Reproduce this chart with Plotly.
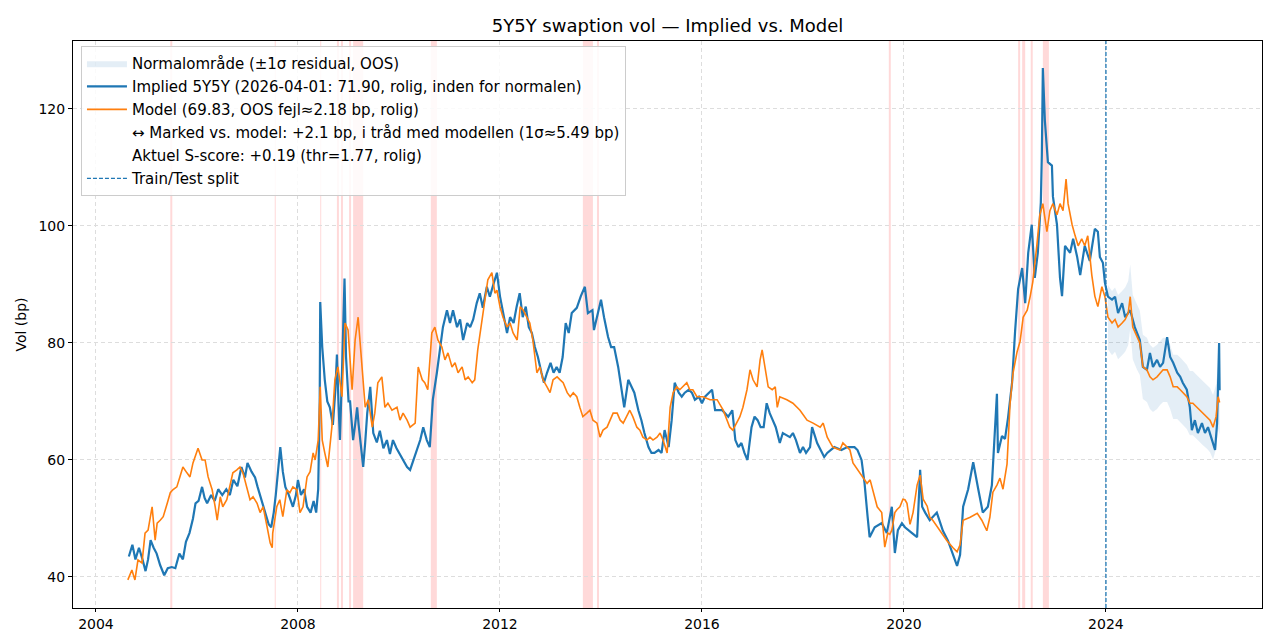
import pandas as pd
import plotly.graph_objects as go

# ---------------- data (decimal years, bp) ----------------
implied_years = [
    2004.65, 2004.72, 2004.78, 2004.85, 2004.92, 2004.98, 2005.03, 2005.08, 2005.14, 2005.2,
    2005.27, 2005.35, 2005.42, 2005.5, 2005.57, 2005.65, 2005.72, 2005.78, 2005.85, 2005.92,
    2005.97, 2006.03, 2006.1, 2006.15, 2006.2, 2006.28, 2006.35, 2006.42, 2006.5, 2006.58,
    2006.65, 2006.72, 2006.8, 2006.88, 2006.95, 2007.0, 2007.08, 2007.15, 2007.2, 2007.28,
    2007.35, 2007.42, 2007.47, 2007.52, 2007.56, 2007.6, 2007.65, 2007.7, 2007.75, 2007.82,
    2007.9, 2007.96, 2008.0, 2008.06, 2008.12, 2008.18, 2008.25, 2008.31, 2008.36, 2008.4,
    2008.43, 2008.44, 2008.48, 2008.53, 2008.58, 2008.63, 2008.69, 2008.74, 2008.77, 2008.8,
    2008.83, 2008.87, 2008.92, 2008.95, 2009.0, 2009.03, 2009.06, 2009.09, 2009.13, 2009.17,
    2009.2, 2009.23, 2009.29, 2009.33, 2009.37, 2009.43, 2009.49, 2009.56, 2009.62, 2009.69,
    2009.76, 2009.82, 2009.88, 2009.95, 2010.02, 2010.09, 2010.16, 2010.22, 2010.29, 2010.36,
    2010.42, 2010.48, 2010.55, 2010.61, 2010.67, 2010.75, 2010.81, 2010.87, 2010.95, 2011.01,
    2011.07, 2011.15, 2011.21, 2011.27, 2011.35, 2011.41, 2011.47, 2011.54, 2011.6, 2011.66,
    2011.74, 2011.8, 2011.87, 2011.94, 2012.0, 2012.06, 2012.14, 2012.2, 2012.27, 2012.33,
    2012.39, 2012.45, 2012.51, 2012.57, 2012.63, 2012.69, 2012.75, 2012.82, 2012.87, 2012.93,
    2013.0, 2013.06, 2013.12, 2013.18, 2013.24, 2013.3, 2013.36, 2013.42, 2013.52, 2013.6,
    2013.68, 2013.74, 2013.83, 2013.86, 2013.94, 2014.0, 2014.06, 2014.14, 2014.2, 2014.26,
    2014.34, 2014.4, 2014.46, 2014.54, 2014.6, 2014.66, 2014.74, 2014.8, 2014.86, 2014.94,
    2015.0, 2015.06, 2015.14, 2015.2, 2015.26, 2015.34, 2015.4, 2015.46, 2015.54, 2015.6,
    2015.66, 2015.74, 2015.8, 2015.86, 2015.94, 2016.0, 2016.06, 2016.14, 2016.2, 2016.26,
    2016.4, 2016.52, 2016.6, 2016.66, 2016.72, 2016.78, 2016.84, 2016.9, 2016.98, 2017.04,
    2017.1, 2017.16, 2017.22, 2017.28, 2017.34, 2017.4, 2017.46, 2017.54, 2017.6, 2017.74,
    2017.8, 2017.86, 2017.94, 2018.0, 2018.06, 2018.14, 2018.18, 2018.28, 2018.42, 2018.48,
    2018.62, 2018.76, 2018.88, 2019.02, 2019.08, 2019.16, 2019.22, 2019.28, 2019.32, 2019.42,
    2019.56, 2019.66, 2019.76, 2019.82, 2019.88, 2019.96, 2020.02, 2020.16, 2020.26, 2020.32,
    2020.36, 2020.42, 2020.51, 2020.65, 2020.77, 2020.87, 2020.97, 2021.05, 2021.11, 2021.17,
    2021.27, 2021.37, 2021.47, 2021.56, 2021.66, 2021.74, 2021.84, 2021.86, 2021.94, 2022.0,
    2022.06, 2022.14, 2022.2, 2022.26, 2022.34, 2022.4, 2022.46, 2022.53, 2022.59, 2022.65,
    2022.71, 2022.73, 2022.75, 2022.79, 2022.85, 2022.93, 2022.95, 2023.03, 2023.09, 2023.13,
    2023.19, 2023.29, 2023.35, 2023.43, 2023.49, 2023.58, 2023.68, 2023.78, 2023.84, 2023.88,
    2023.94, 2023.98, 2024.04, 2024.12, 2024.18, 2024.24, 2024.32, 2024.38, 2024.48, 2024.57,
    2024.67, 2024.73, 2024.81, 2024.87, 2024.93, 2025.01, 2025.07, 2025.13, 2025.21, 2025.27,
    2025.33, 2025.41, 2025.47, 2025.52, 2025.6, 2025.66, 2025.7, 2025.76, 2025.82, 2025.9,
    2025.96, 2026.02, 2026.1, 2026.16, 2026.2, 2026.24, 2026.25,
]
implied_vals = [
    43.5, 45.5, 43.0, 45.0, 43.0, 41.0, 43.0, 46.3, 45.0, 44.0,
    42.0, 40.3, 41.5, 41.7, 41.5, 44.0, 43.0, 46.0, 47.5, 50.0,
    52.6, 53.0, 55.4, 53.5, 52.6, 54.0, 53.0, 55.0, 54.0, 55.0,
    54.0, 56.6, 55.5, 58.8, 57.0, 59.5, 58.0, 57.0, 55.4, 53.0,
    51.0, 49.0, 48.5, 51.0, 54.0, 58.0, 62.2, 58.0, 55.4, 54.0,
    52.0, 54.0, 56.6, 54.0, 55.0, 52.0, 51.0, 53.0, 51.0, 55.0,
    70.0, 87.0, 79.3, 73.7, 70.0, 69.0, 66.0, 72.0, 78.0, 70.0,
    63.4, 75.0, 91.0, 77.6, 70.0, 70.0, 66.0, 63.4, 66.0, 69.0,
    66.0, 63.4, 58.8, 63.0, 68.0, 72.5, 64.6, 63.0, 65.0, 62.0,
    63.4, 61.0, 63.4, 62.0, 61.0, 60.0, 58.8, 58.3, 60.0, 61.7,
    63.4, 65.6, 63.4, 62.2, 70.3, 74.9, 78.8, 82.7, 85.6, 83.4,
    85.6, 82.7, 84.0, 80.5, 83.4, 82.7, 84.0, 86.8, 88.5, 86.0,
    89.6, 87.9, 90.0, 92.0, 88.0, 85.0, 81.7, 84.4, 83.4, 86.2,
    88.5, 84.4, 86.2, 82.7, 81.7, 79.3, 77.6, 74.9, 73.2, 74.9,
    76.6, 74.9, 75.9, 74.9, 77.6, 83.4, 81.7, 85.1, 86.0, 88.0,
    89.6, 85.1, 85.6, 82.2, 85.1, 87.4, 84.4, 81.0, 79.3, 79.3,
    75.9, 72.5, 69.0, 73.7, 72.5, 71.5, 68.5, 66.8, 64.6, 62.2,
    61.2, 61.2, 61.7, 61.2, 65.1, 62.2, 66.8, 73.2, 71.5, 70.8,
    71.5, 72.0, 71.5, 70.3, 70.8, 69.7, 70.8, 71.5, 72.0, 68.5,
    68.5, 67.4, 68.5, 63.4, 62.2, 62.9, 61.2, 60.0, 65.6, 67.4,
    66.8, 65.6, 65.6, 69.7, 68.0, 66.8, 65.6, 62.9, 64.6, 63.9,
    64.6, 63.4, 61.2, 62.2, 61.2, 62.2, 65.6, 62.9, 60.5, 61.2,
    62.2, 61.7, 62.2, 62.2, 61.7, 60.0, 56.0, 50.3, 46.8, 48.5,
    49.2, 47.5, 52.0, 44.1, 48.0, 49.2, 48.5, 47.5, 46.8, 58.3,
    52.0, 51.0, 49.7, 51.0, 47.9, 46.2, 43.8, 41.9, 43.8, 52.0,
    55.0, 59.6, 55.0, 51.0, 52.0, 55.7, 71.3, 61.2, 64.1, 63.6,
    67.2, 73.2, 82.0, 89.2, 92.8, 86.8, 95.4, 100.2, 91.1, 95.4,
    104.0, 112.1, 127.0, 118.0, 110.9, 110.3, 105.0, 100.2, 91.1, 88.0,
    96.6, 95.4, 97.8, 94.7, 91.6, 96.6, 94.0, 99.5, 99.0, 94.7,
    93.7, 90.3, 87.9, 87.4, 87.9, 85.1, 86.8, 84.4, 85.6, 82.7,
    80.5, 75.9, 75.4, 78.3, 75.9, 77.1, 75.9, 76.6, 81.0, 77.6,
    76.6, 74.9, 74.2, 73.2, 72.0, 69.0, 65.1, 66.8, 64.6, 66.3,
    64.6, 65.6, 63.4, 61.7, 66.3, 80.0, 71.9,
]

model_years = [
    2004.63, 2004.71, 2004.77, 2004.83, 2004.91, 2004.97, 2005.03, 2005.11, 2005.17, 2005.21,
    2005.27, 2005.33, 2005.41, 2005.47, 2005.52, 2005.6, 2005.66, 2005.72, 2005.8, 2005.86,
    2005.92, 2006.02, 2006.1, 2006.16, 2006.22, 2006.3, 2006.36, 2006.4, 2006.46, 2006.51,
    2006.59, 2006.65, 2006.71, 2006.79, 2006.85, 2006.91, 2006.99, 2007.05, 2007.11, 2007.19,
    2007.25, 2007.31, 2007.39, 2007.45, 2007.49, 2007.5, 2007.58, 2007.64, 2007.7, 2007.78,
    2007.84, 2007.9, 2007.98, 2008.04, 2008.1, 2008.18, 2008.24, 2008.3, 2008.34, 2008.4,
    2008.44, 2008.48, 2008.53, 2008.59, 2008.67, 2008.73, 2008.79, 2008.87, 2008.93, 2008.99,
    2009.07, 2009.13, 2009.19, 2009.27, 2009.33, 2009.39, 2009.47, 2009.52, 2009.58, 2009.66,
    2009.72, 2009.78, 2009.86, 2009.96, 2010.02, 2010.08, 2010.16, 2010.22, 2010.32, 2010.38,
    2010.46, 2010.51, 2010.57, 2010.65, 2010.71, 2010.77, 2010.85, 2010.91, 2010.97, 2011.05,
    2011.11, 2011.17, 2011.25, 2011.31, 2011.37, 2011.45, 2011.5, 2011.56, 2011.64, 2011.7,
    2011.76, 2011.84, 2011.9, 2011.94, 2012.0, 2012.06, 2012.14, 2012.2, 2012.26, 2012.34,
    2012.4, 2012.46, 2012.53, 2012.59, 2012.65, 2012.73, 2012.79, 2012.85, 2012.93, 2012.99,
    2013.05, 2013.13, 2013.19, 2013.25, 2013.33, 2013.39, 2013.45, 2013.52, 2013.58, 2013.64,
    2013.72, 2013.78, 2013.84, 2013.92, 2013.98, 2014.04, 2014.12, 2014.18, 2014.24, 2014.32,
    2014.38, 2014.44, 2014.51, 2014.57, 2014.63, 2014.71, 2014.77, 2014.83, 2014.91, 2014.97,
    2015.03, 2015.11, 2015.17, 2015.23, 2015.31, 2015.37, 2015.43, 2015.5, 2015.56, 2015.62,
    2015.7, 2015.76, 2015.82, 2015.9, 2016.02, 2016.16, 2016.3, 2016.42, 2016.5, 2016.55,
    2016.61, 2016.69, 2016.75, 2016.81, 2016.89, 2016.95, 2017.01, 2017.09, 2017.15, 2017.19,
    2017.25, 2017.31, 2017.39, 2017.45, 2017.49, 2017.54, 2017.68, 2017.8, 2017.94, 2018.08,
    2018.2, 2018.34, 2018.4, 2018.48, 2018.59, 2018.73, 2018.79, 2018.93, 2018.99, 2019.13,
    2019.27, 2019.33, 2019.39, 2019.47, 2019.56, 2019.62, 2019.68, 2019.72, 2019.76, 2019.82,
    2019.86, 2019.92, 2019.98, 2020.02, 2020.06, 2020.12, 2020.18, 2020.26, 2020.32, 2020.38,
    2020.46, 2020.51, 2020.57, 2020.71, 2020.85, 2020.97, 2021.05, 2021.11, 2021.17, 2021.31,
    2021.45, 2021.54, 2021.64, 2021.7, 2021.76, 2021.84, 2021.9, 2021.96, 2022.04, 2022.1,
    2022.16, 2022.24, 2022.3, 2022.36, 2022.44, 2022.5, 2022.55, 2022.63, 2022.69, 2022.75,
    2022.83, 2022.89, 2022.95, 2023.03, 2023.09, 2023.15, 2023.21, 2023.25, 2023.33, 2023.39,
    2023.45, 2023.52, 2023.58, 2023.64, 2023.72, 2023.78, 2023.84, 2023.92, 2023.98, 2024.04,
    2024.12, 2024.18, 2024.24, 2024.32, 2024.38, 2024.44, 2024.48, 2024.53, 2024.61, 2024.67,
    2024.73, 2024.81, 2024.87, 2024.93, 2025.01, 2025.07, 2025.13, 2025.21, 2025.27, 2025.33,
    2025.41, 2025.47, 2025.52, 2025.6, 2025.66, 2025.72, 2025.8, 2025.86, 2025.92, 2026.0,
    2026.06, 2026.12, 2026.18, 2026.22, 2026.25,
]
model_vals = [
    39.5, 41.2, 39.5, 42.9, 42.4, 47.5, 48.0, 52.0, 46.3, 49.2,
    49.7, 50.3, 52.6, 54.4, 54.9, 55.4, 57.1, 58.8, 57.8, 57.1,
    59.5, 62.0, 60.0, 60.0, 57.1, 54.9, 52.0, 49.7, 53.7, 52.0,
    53.2, 55.4, 57.8, 58.3, 58.8, 57.8, 55.4, 53.2, 53.7, 52.6,
    51.0, 52.0, 48.5, 45.8, 45.0, 47.5, 52.0, 53.2, 50.3, 54.9,
    54.4, 55.4, 54.9, 51.0, 52.0, 57.1, 58.0, 61.2, 60.0, 63.4,
    72.5, 63.4, 61.2, 58.8, 65.6, 73.7, 75.9, 70.8, 83.4, 82.2,
    72.0, 80.5, 84.4, 74.9, 69.0, 70.3, 65.6, 68.0, 73.2, 74.2,
    69.0, 69.7, 68.5, 69.0, 66.8, 68.0, 66.8, 65.6, 66.3, 75.9,
    73.7, 73.2, 72.0, 81.7, 82.7, 80.5, 79.3, 77.1, 78.3, 75.9,
    76.6, 74.9, 75.9, 73.7, 74.2, 73.2, 73.7, 78.8, 83.4, 87.4,
    90.8, 92.0, 88.5, 89.0, 86.2, 84.4, 82.7, 83.4, 81.7, 80.5,
    86.2, 85.6, 84.4, 83.4, 80.5, 74.9, 75.9, 73.7, 72.5, 71.5,
    73.7, 74.2, 73.7, 73.2, 71.5, 70.8, 71.5, 70.8, 69.0, 67.4,
    68.0, 68.5, 66.8, 66.3, 63.9, 65.1, 65.6, 66.8, 68.0, 68.0,
    66.8, 66.3, 67.4, 68.5, 67.4, 65.6, 65.1, 63.9, 63.4, 63.9,
    63.4, 63.9, 64.6, 63.4, 61.2, 69.0, 71.5, 72.5, 72.0, 72.5,
    73.2, 72.0, 72.0, 70.8, 70.8, 70.3, 70.3, 68.5, 66.8, 65.6,
    65.1, 66.3, 67.4, 69.0, 72.0, 75.4, 73.7, 72.5, 77.1, 78.8,
    75.9, 72.5, 72.0, 72.5, 69.0, 70.8, 70.3, 69.7, 68.5, 66.8,
    66.3, 65.6, 66.3, 63.9, 62.2, 61.7, 62.9, 61.7, 59.5, 57.8,
    56.0, 56.6, 54.4, 52.0, 51.0, 45.1, 47.5, 47.3, 48.0, 51.0,
    51.5, 52.0, 53.3, 53.2, 52.6, 49.0, 51.0, 55.7, 57.4, 53.3,
    52.1, 50.2, 49.7, 47.9, 46.2, 45.0, 44.3, 45.5, 49.7, 50.2,
    50.9, 49.7, 47.9, 50.2, 54.5, 55.7, 56.9, 55.0, 59.3, 69.6,
    74.9, 78.5, 80.3, 84.4, 85.6, 88.0, 90.4, 96.6, 101.9, 103.8,
    99.0, 102.6, 103.8, 101.9, 103.8, 102.6, 108.0, 103.8, 100.2, 98.3,
    96.6, 97.8, 96.6, 98.3, 91.6, 88.0, 86.2, 89.6, 87.9, 84.4,
    83.4, 84.0, 82.7, 83.4, 84.0, 85.1, 87.9, 82.7, 81.0, 80.0,
    75.9, 75.4, 74.2, 73.7, 74.2, 74.9, 75.4, 75.4, 74.2, 72.5,
    72.5, 72.0, 71.5, 70.8, 69.7, 69.7, 69.0, 68.5, 68.0, 67.4,
    66.8, 65.6, 67.4, 70.8, 69.83,
]

sigma_oos = 5.49          # 1 sigma residual (bp) for the normal band
split_year = 2024.0       # train/test split
stress_spans = [
    (2005.47, 2005.51), (2007.54, 2007.56), (2008.44, 2008.46), (2008.77, 2008.81),
    (2008.85, 2008.89), (2009.01, 2009.05), (2009.09, 2009.29), (2010.63, 2010.75),
    (2013.64, 2013.84), (2013.92, 2013.96), (2019.70, 2019.74), (2022.26, 2022.30),
    (2022.34, 2022.40), (2022.51, 2022.55), (2022.75, 2022.87),
]
tick_years = [2004, 2008, 2012, 2016, 2020, 2024]
y_ticks = [40, 60, 80, 100, 120]

legend_labels = [
    "Normalområde (±1σ residual, OOS)",
    "Implied 5Y5Y (2026-04-01: 71.90, rolig, inden for normalen)",
    "Model (69.83, OOS fejl≈2.18 bp, rolig)",
    "↔ Marked vs. model: +2.1 bp, i tråd med modellen (1σ≈5.49 bp)",
    "Aktuel S-score: +0.19 (thr=1.77, rolig)",
    "Train/Test split",
]


def to_date(y):
    yr = int(y)
    start = pd.Timestamp(year=yr, month=1, day=1)
    end = pd.Timestamp(year=yr + 1, month=1, day=1)
    return start + (end - start) * (y - yr)


implied_dates = [to_date(v) for v in implied_years]
model_dates = [to_date(v) for v in model_years]

band_x = [d for d, y in zip(model_dates, model_years) if y >= split_year]
band_m = [m for m, y in zip(model_vals, model_years) if y >= split_year]
band_up = [m + sigma_oos for m in band_m]
band_lo = [m - sigma_oos for m in band_m]

BLUE = "#1f77b4"
ORANGE = "#ff7f0e"
FONT = "DejaVu Sans"

fig = go.Figure()

fig.add_trace(go.Scatter(
    x=band_x + band_x[::-1], y=band_up + band_lo[::-1],
    fill="toself", fillcolor="rgba(31,119,180,0.12)", line=dict(width=0),
    mode="lines", name=legend_labels[0], legendgroup="g0", hoverinfo="skip",
))
fig.add_trace(go.Scatter(
    x=implied_dates, y=implied_vals, mode="lines",
    line=dict(color=BLUE, width=2.2), name=legend_labels[1], legendgroup="g1",
))
fig.add_trace(go.Scatter(
    x=model_dates, y=model_vals, mode="lines",
    line=dict(color=ORANGE, width=1.6), name=legend_labels[2], legendgroup="g2",
))
for i, lab in enumerate(legend_labels[3:5]):
    fig.add_trace(go.Scatter(
        x=[None], y=[None], mode="lines", line=dict(color="rgba(0,0,0,0)"),
        name=lab, legendgroup=f"g{3 + i}",
    ))
fig.add_trace(go.Scatter(
    x=[None], y=[None], mode="lines",
    line=dict(color=BLUE, width=1.3, dash="4px,2px"),
    name=legend_labels[5], legendgroup="g5",
))

for a, b in stress_spans:
    fig.add_shape(type="rect", xref="x", yref="paper", x0=to_date(a), x1=to_date(b),
                  y0=0, y1=1, fillcolor="rgba(255,0,0,0.15)", line=dict(width=0),
                  layer="below")

fig.add_shape(type="line", xref="x", yref="paper", x0=to_date(split_year), x1=to_date(split_year),
              y0=0, y1=1, line=dict(color=BLUE, width=1.3, dash="4px,2px"))

fig.update_layout(
    width=1263, height=633,
    autosize=False,
    margin=dict(l=73, r=1, t=41, b=25, pad=0, autoexpand=False),
    paper_bgcolor="white", plot_bgcolor="white",
    font=dict(family=FONT, size=15, color="black"),
    title=dict(text="5Y5Y swaption vol — Implied vs. Model", x=0.5, xref="paper",
               y=1 - 26 / 633, yref="container", yanchor="middle", xanchor="center",
               font=dict(size=18, family=FONT), automargin=False),
    showlegend=True,
    legend=dict(x=0.0067, y=0.991, xanchor="left", yanchor="top",
                bgcolor="rgba(255,255,255,0.85)", bordercolor="#cccccc", borderwidth=1,
                font=dict(size=15, family=FONT), tracegroupgap=0.5, itemwidth=40),
)

fig.update_xaxes(
    type="date", range=[to_date(2003.545), to_date(2027.09)],
    tickvals=[to_date(t) for t in tick_years], ticktext=[str(t) for t in tick_years],
    showgrid=True, gridcolor="#dddddd", griddash="4px,3px", gridwidth=1,
    showline=True, linecolor="black", linewidth=1, mirror=True,
    ticks="outside", ticklen=3, tickcolor="black", zeroline=False,
    tickfont=dict(size=14), automargin=False,
)
fig.update_yaxes(
    range=[34.7, 131.6], tickvals=y_ticks,
    showgrid=True, gridcolor="#dddddd", griddash="4px,3px", gridwidth=1,
    showline=True, linecolor="black", linewidth=1, mirror=True,
    ticks="outside", ticklen=4, tickcolor="black", zeroline=False,
    title=dict(text="Vol (bp)", font=dict(size=14), standoff=8),
    tickfont=dict(size=14), automargin=False,
)

fig.write_html(
    "out.html",
    config={"displayModeBar": False},
    post_script="document.body.style.margin='0';document.body.style.padding='0';"
                "document.body.style.overflow='hidden';",
)
